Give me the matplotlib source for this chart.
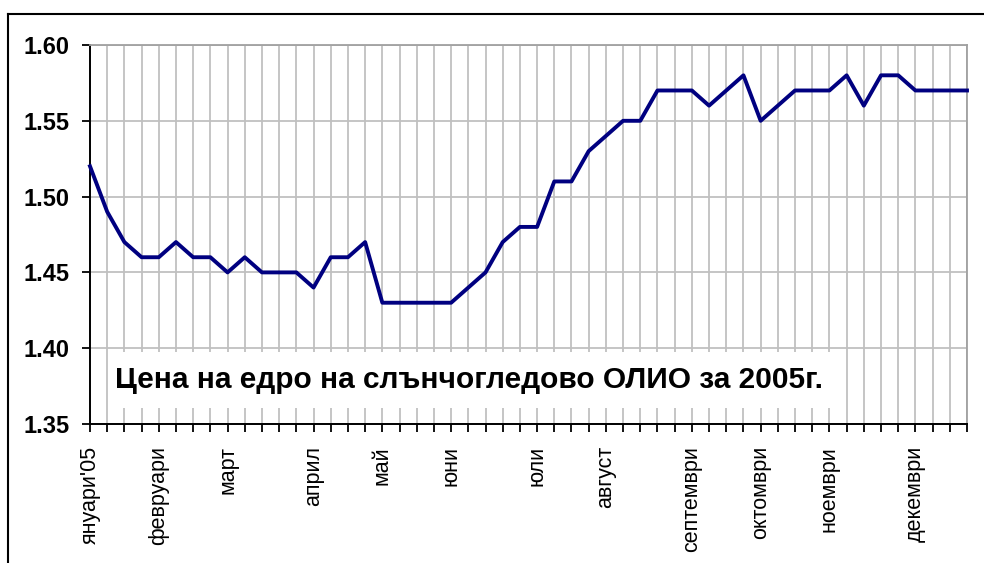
import numpy as np
import matplotlib
matplotlib.use("Agg")
import matplotlib.pyplot as plt
from matplotlib.lines import Line2D
from matplotlib.patches import Rectangle

plt.rcParams['font.family'] = ['Liberation Sans', 'DejaVu Sans']

# weekly wholesale price of sunflower oil, 2005
prices = [1.52, 1.49, 1.47, 1.46, 1.46, 1.47, 1.46, 1.46, 1.45, 1.46,
          1.45, 1.45, 1.45, 1.44, 1.46, 1.46, 1.47, 1.43, 1.43, 1.43,
          1.43, 1.43, 1.44, 1.45, 1.47, 1.48, 1.48, 1.51, 1.51, 1.53,
          1.54, 1.55, 1.55, 1.57, 1.57, 1.57, 1.56, 1.57, 1.58, 1.55,
          1.56, 1.57, 1.57, 1.57, 1.58, 1.56, 1.58, 1.58, 1.57, 1.57,
          1.57, 1.57]
month_pos = [0, 4, 8, 13, 17, 21, 26, 30, 35, 39, 43, 48]
month_names = ["януари'05", "февруари", "март", "април", "май", "юни",
               "юли", "август", "септември", "октомври", "ноември", "декември"]
yticks = [1.35, 1.40, 1.45, 1.50, 1.55, 1.60]
title = "Цена на едро на слънчогледово ОЛИО за 2005г."

W, H = 984, 563
fig = plt.figure(figsize=(W / 100, H / 100), dpi=100)
ax = fig.add_axes([90 / W, 1 - 424 / H, (967 - 90) / W, (424 - 45) / H])

weeks = np.arange(len(prices))
ax.plot(weeks, prices, color='#000080', lw=2.8, zorder=5, clip_on=False)

ax.set_xlim(0, len(prices) - 1)
ax.set_ylim(1.35, 1.60)
ax.set_yticks(yticks)
ax.set_yticklabels([f"{v:.2f}" for v in yticks], fontsize=17, fontweight='bold')

labels = [''] * len(prices)
for p, n in zip(month_pos, month_names):
    labels[p] = n
ax.set_xticks(weeks)
ax.set_xticklabels(labels, rotation=90, fontsize=15.5)

ax.grid(True, color='#c0c0c0', lw=1.3, zorder=0)
ax.set_axisbelow(True)
ax.tick_params(axis='y', length=6, width=1.3, pad=9)
ax.tick_params(axis='x', length=6, width=1.3, pad=10)
for s in ['left', 'bottom']:
    ax.spines[s].set_color('black')
    ax.spines[s].set_linewidth(1.4)
for s in ['top', 'right']:
    ax.spines[s].set_color('#a0a0a0')
    ax.spines[s].set_linewidth(1.3)

# white box behind the caption
box = Rectangle((109 / W, 1 - 408 / H), (838 - 109) / W, (408 - 352) / H,
                transform=fig.transFigure, facecolor='white', edgecolor='none', zorder=3)
fig.add_artist(box)
fig.text(115 / W, 1 - 380 / H, title, fontsize=21.5, fontweight='bold',
         va='center', ha='left', zorder=4)

# outer frame
fig.add_artist(Line2D([8 / W, 8 / W], [0, 1 - 14 / H], color='black', lw=1.5))
fig.add_artist(Line2D([8 / W, 1], [1 - 14 / H, 1 - 14 / H], color='black', lw=1.5))

fig.savefig('out.png', dpi=100, facecolor='white')
